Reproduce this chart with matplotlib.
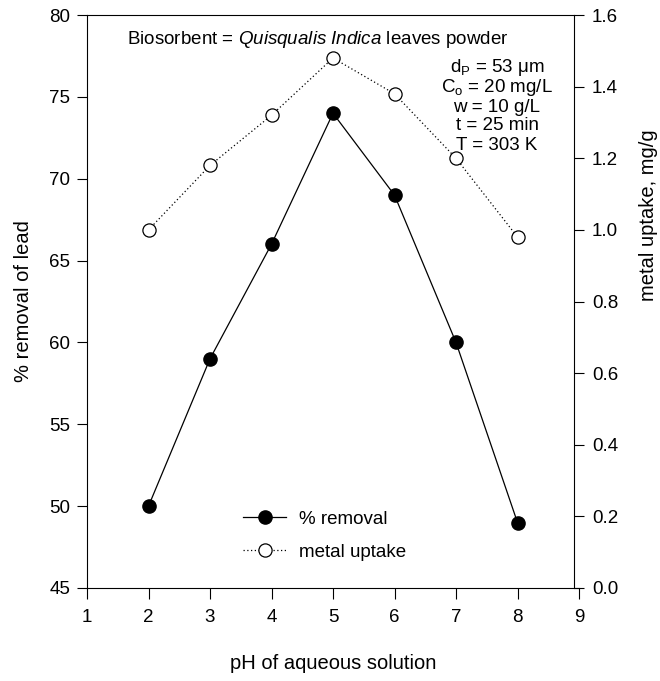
import matplotlib
matplotlib.use("Agg")
import matplotlib.pyplot as plt
from matplotlib.lines import Line2D

plt.rcParams['font.family'] = ['Liberation Sans', 'DejaVu Sans']
plt.rcParams['mathtext.fontset'] = 'custom'
plt.rcParams['mathtext.rm'] = 'Liberation Sans'
plt.rcParams['mathtext.it'] = 'Liberation Sans:italic'

ph = [2, 3, 4, 5, 6, 7, 8]
removal = [50, 59, 66, 74, 69, 60, 49]
uptake = [1.00, 1.18, 1.32, 1.48, 1.38, 1.20, 0.98]

W, H = 660, 681
L, R, T, B = 87, 579, 15, 588
fig = plt.figure(figsize=(6.6, 6.81), dpi=100)
ax = fig.add_axes([L/W, (H-B)/H, (R-L)/W, (B-T)/H])
ax2 = ax.twinx()

rs = (574 - L) / (R - L)  # right spine position in axes fraction

ax.plot(ph, removal, color='black', lw=0.9, marker='o', ms=9.5,
        mfc='black', mec='black', zorder=3, clip_on=False)
ax2.plot(ph, uptake, color='black', lw=0.9, ls=(0, (1, 2)), marker='o', ms=9.5,
         mfc='white', mec='black', mew=0.9, zorder=3, clip_on=False)

ax.set_xlim(1, 9)
ax.set_ylim(45, 80)
ax2.set_ylim(0, 1.6)
ax.set_xticks(range(1, 10))
ax.set_yticks(range(45, 81, 5))
ax2.set_yticks([0.0, 0.2, 0.4, 0.6, 0.8, 1.0, 1.2, 1.4, 1.6])
ax2.set_yticklabels(['0.0', '0.2', '0.4', '0.6', '0.8', '1.0', '1.2', '1.4', '1.6'])

ax.spines['right'].set_visible(False)
ax.spines['top'].set_bounds(1, 1 + 8 * rs)
for s in ('top', 'left', 'bottom'):
    ax2.spines[s].set_visible(False)
ax2.spines['right'].set_position(('axes', rs))

for a in (ax, ax2):
    for s in a.spines.values():
        s.set_linewidth(0.8)
ax.tick_params(axis='y', direction='out', length=7, width=0.8, labelsize=13.5, pad=5)
ax.tick_params(axis='x', direction='out', length=8, width=0.8, labelsize=13.5, pad=7)
ax2.tick_params(axis='y', direction='out', length=7, width=0.8, labelsize=13.5, pad=6)

ax.set_xlabel('pH of aqueous solution', fontsize=14.5, labelpad=20)
ax.set_ylabel('% removal of lead', fontsize=14.5, labelpad=12)
ax2.set_ylabel('metal uptake, mg/g', fontsize=14.5, rotation=90, va='center')
ax2.yaxis.set_label_coords((649 - L) / (R - L), 0.65)

def fx(px):
    return (px - L) / (R - L)

def fy(py):
    return (B - py) / (B - T)

ax.text(fx(318), fy(39), r'Biosorbent = $\mathit{Quisqualis\ Indica}$ leaves powder',
        transform=ax.transAxes, ha='center', va='center', fontsize=13.5)
lines = [r'd$_\mathrm{P}$ = 53 $\mathrm{\mu}$m', r'C$_\mathrm{o}$ = 20 mg/L',
         'w = 10 g/L', 't = 25 min', 'T = 303 K']
ys = [67, 87, 107, 126, 145]
for t, y in zip(lines, ys):
    ax.text(fx(497), fy(y), t, transform=ax.transAxes, ha='center', va='center',
            fontsize=13.5)

h1 = Line2D([], [], color='black', lw=0.9, marker='o', ms=9.5, mfc='black', mec='black')
h2 = Line2D([], [], color='black', lw=0.9, ls=(0, (1, 2)), marker='o', ms=9.5,
            mfc='white', mec='black', mew=0.9)
ax.legend([h1, h2], ['% removal', 'metal uptake'], loc='lower left',
          bbox_to_anchor=(fx(243), fy(561)), frameon=False, fontsize=13.5,
          handlelength=2.3, handletextpad=0.7, labelspacing=0.85, borderpad=0,
          borderaxespad=0)

fig.savefig('out.png', dpi=100)
